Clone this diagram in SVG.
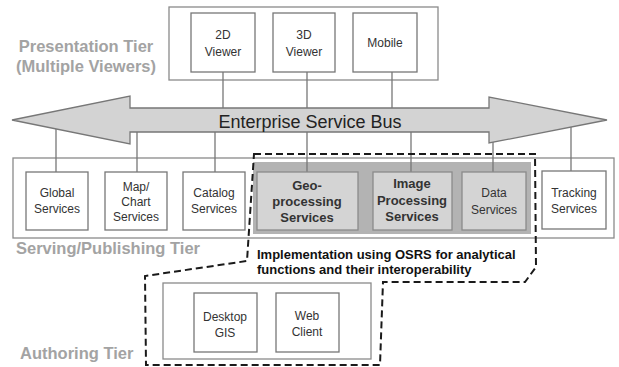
<svg xmlns="http://www.w3.org/2000/svg" width="619" height="367" viewBox="0 0 619 367">
<style>
.tier{fill:#fff;stroke:#8a8a8a;stroke-width:1.3}
.box{fill:#fff;stroke:#777;stroke-width:1.3}
.gbox{fill:#d4d4d4;stroke:#8a8a8a;stroke-width:1.3}
.conn{stroke:#777;stroke-width:1.3;fill:none}
.t{font-family:"Liberation Sans",Arial,sans-serif;font-size:12px;fill:#333;text-anchor:middle}
.tb{font-family:"Liberation Sans",Arial,sans-serif;font-size:13px;font-weight:bold;fill:#333;text-anchor:middle}
.lab{font-family:"Liberation Sans",Arial,sans-serif;font-size:16.5px;font-weight:bold;fill:#a3a3a3}
.note{font-family:"Liberation Sans",Arial,sans-serif;font-size:13px;font-weight:bold;fill:#111}
</style>
<rect width="619" height="367" fill="#fff"/>

<!-- tier containers -->
<g id="presentation-tier">
<rect class="tier" x="169" y="7" width="269" height="73"/>
<text class="lab" x="86" y="52" text-anchor="middle">Presentation Tier</text>
<text class="lab" x="86" y="72" text-anchor="middle">(Multiple Viewers)</text>
</g>
<g id="serving-tier">
<rect class="tier" x="13" y="158" width="601" height="80"/>
<rect x="253" y="162" width="278" height="72" fill="#b3b3b3"/>
<text class="lab" x="16" y="254">Serving/Publishing Tier</text>
</g>
<g id="authoring-tier">
<rect class="tier" x="163" y="283" width="208" height="76"/>
<text class="lab" x="20" y="359">Authoring Tier</text>
</g>

<!-- connectors -->
<g id="connectors">
<line class="conn" x1="223" y1="72" x2="223" y2="108"/>
<line class="conn" x1="307" y1="72" x2="307" y2="108"/>
<line class="conn" x1="392" y1="72" x2="392" y2="108"/>
<line class="conn" x1="56" y1="128" x2="56" y2="172"/>
<line class="conn" x1="137" y1="132" x2="137" y2="172"/>
<line class="conn" x1="215" y1="132" x2="215" y2="172"/>
<line class="conn" x1="307" y1="132" x2="307" y2="172"/>
<line class="conn" x1="411" y1="132" x2="411" y2="172"/>
<line class="conn" x1="493" y1="142" x2="493" y2="172"/>
<line class="conn" x1="571" y1="127" x2="571" y2="171"/>
</g>

<g id="esb">
<path d="M12,120 L130,96 L130,108 L489,108 L489,97 L607,120 L489,143 L489,132 L130,132 L130,144 Z" fill="#d3d3d3" stroke="#777" stroke-width="1.3"/>
<text x="310" y="128" font-family="Liberation Sans, Arial, sans-serif" font-size="18" fill="#222" text-anchor="middle">Enterprise Service Bus</text>
</g>

<!-- presentation nodes -->
<g id="viewer2d">
<rect class="box" x="191" y="13" width="64" height="59"/>
<text class="t" x="223" y="39">2D</text>
<text class="t" x="223" y="56">Viewer</text>
</g>
<g id="viewer3d">
<rect class="box" x="273" y="13" width="62" height="59"/>
<text class="t" x="304" y="39">3D</text>
<text class="t" x="304" y="56">Viewer</text>
</g>
<g id="mobile">
<rect class="box" x="353" y="13" width="64" height="59"/>
<text class="t" x="385" y="47">Mobile</text>
</g>

<!-- serving nodes -->
<g id="global-services">
<rect class="box" x="26" y="172" width="62" height="58"/>
<text class="t" x="57" y="197">Global</text>
<text class="t" x="57" y="213">Services</text>
</g>
<g id="map-chart-services">
<rect class="box" x="105" y="172" width="62" height="58"/>
<text class="t" x="136" y="191">Map/</text>
<text class="t" x="136" y="206">Chart</text>
<text class="t" x="136" y="221">Services</text>
</g>
<g id="catalog-services">
<rect class="box" x="183" y="172" width="62" height="58"/>
<text class="t" x="214" y="197">Catalog</text>
<text class="t" x="214" y="213">Services</text>
</g>
<g id="geoprocessing-services">
<rect class="gbox" x="257" y="172" width="101" height="58"/>
<text class="tb" x="307" y="190">Geo-</text>
<text class="tb" x="307" y="206">processing</text>
<text class="tb" x="307" y="222">Services</text>
</g>
<g id="image-processing-services">
<rect class="gbox" x="373" y="172" width="79" height="58"/>
<text class="tb" x="412" y="188">Image</text>
<text class="tb" x="412" y="205">Processing</text>
<text class="tb" x="412" y="221">Services</text>
</g>
<g id="data-services">
<rect class="gbox" x="462" y="172" width="64" height="58"/>
<text class="t" x="494" y="197">Data</text>
<text class="t" x="494" y="214">Services</text>
</g>
<g id="tracking-services">
<rect class="box" x="542" y="171" width="64" height="58"/>
<text class="t" x="574" y="197">Tracking</text>
<text class="t" x="574" y="213">Services</text>
</g>

<!-- authoring nodes -->
<g id="desktop-gis">
<rect class="box" x="194" y="293" width="63" height="59"/>
<text class="t" x="225" y="321">Desktop</text>
<text class="t" x="225" y="337">GIS</text>
</g>
<g id="web-client">
<rect class="box" x="276" y="293" width="63" height="59"/>
<text class="t" x="307" y="320">Web</text>
<text class="t" x="307" y="336">Client</text>
</g>

<!-- OSRS implementation boundary -->
<g id="osrs-boundary">
<path d="M254,154 L535,154 L536,267 L525,282 L383,282 L380,365 L146,365 L145,276 L247,261 Z" fill="none" stroke="#1a1a1a" stroke-width="2" stroke-dasharray="7,4"/>
<text class="note" x="257" y="259">Implementation using OSRS for analytical</text>
<text class="note" x="257" y="274">functions and their interoperability</text>
</g>
</svg>
